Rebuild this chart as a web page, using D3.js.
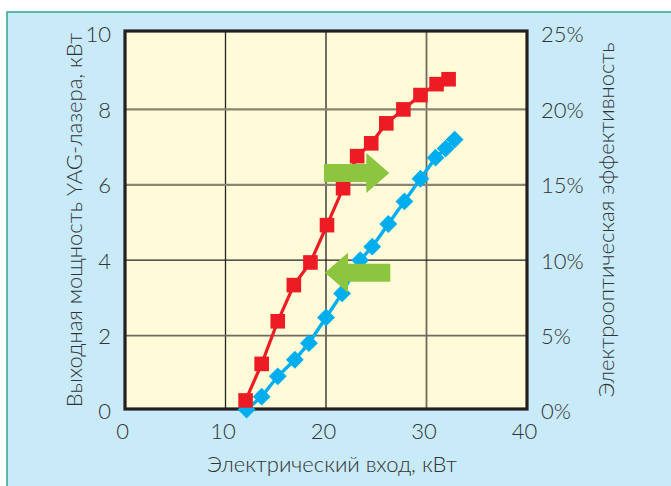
<!DOCTYPE html>
<html><head><meta charset="utf-8">
<script src="https://cdn.jsdelivr.net/npm/d3@7"></script>
<style>
html,body{margin:0;padding:0;background:#fff;}
text{font-family:Lato,"Noto Sans",sans-serif;fill:#333;font-weight:300;}
</style></head>
<body>
<svg id="c" width="671" height="486"></svg>
<script>
// Data
const xTicks = [0, 10, 20, 30, 40];
const yLeftTicks = [0, 2, 4, 6, 8, 10];
const yRightTicks = [0, 5, 10, 15, 20, 25];
// Red: output YAG power (kW) vs electrical input (kW)
const powerInput = [12.0, 13.6, 15.2, 16.8, 18.45, 20.1, 21.7, 23.1, 24.5, 26.0, 27.7, 29.4, 31.0, 32.2];
const powerOutput = [0.28, 1.25, 2.38, 3.34, 3.94, 4.93, 5.91, 6.76, 7.10, 7.63, 8.0, 8.38, 8.67, 8.80];
// Blue: electro-optical efficiency (%) vs electrical input (kW)
const effInput = [12.1, 13.6, 15.2, 16.9, 18.3, 20.0, 21.6, 23.4, 24.6, 26.2, 27.8, 29.4, 30.9, 31.9, 32.8];
const effValue = [0.1, 0.95, 2.3, 3.4, 4.5, 6.2, 7.8, 10.0, 10.9, 12.4, 13.9, 15.4, 16.8, 17.4, 18.0];
// Annotation arrows (data coords): tail x, tip x, y on left axis
const arrowTail = [19.8, 26.4];
const arrowTip = [26.3, 19.9];
const arrowY = [6.31, 3.67];

const svg = d3.select("#c");
// Panel background
svg.append("rect").attr("x", 7).attr("y", 12).attr("width", 700).attr("height", 500)
  .attr("fill", "#c8eaf9").attr("stroke", "#2aa98a").attr("stroke-width", 1.5);

const x = d3.scaleLinear().domain([0, 40]).range([125, 527]);
const y = d3.scaleLinear().domain([0, 10]).range([411, 34]);
const yr = d3.scaleLinear().domain([0, 25]).range([411, 34]);

const L = 125, R = 527, T = 31, B = 409;
svg.append("rect").attr("x", L).attr("y", T).attr("width", R - L).attr("height", B - T)
  .attr("fill", "#fffbd8");

// Grid
const vStyle = {10: ["#222", 1.3], 20: ["#222", 1.3], 30: ["#6e6a5e", 1.8]};
svg.append("g").selectAll("line").data(xTicks.filter(d => d > 0 && d < 40)).join("line")
  .attr("x1", d => x(d)).attr("x2", d => x(d)).attr("y1", T).attr("y2", B)
  .attr("stroke", d => vStyle[d][0]).attr("stroke-width", d => vStyle[d][1]);
const hStyle = {2: ["#6e6a5e", 1.8], 4: ["#222", 1.3], 6: ["#8a8470", 2.2], 8: ["#8a8470", 2.2]};
svg.append("g").selectAll("line").data(yLeftTicks.filter(d => d > 0 && d < 10)).join("line")
  .attr("x1", L).attr("x2", R).attr("y1", d => y(d)).attr("y2", d => y(d))
  .attr("stroke", d => hStyle[d][0]).attr("stroke-width", d => hStyle[d][1]);

// Frame
svg.append("rect").attr("x", L).attr("y", T).attr("width", R - L).attr("height", B - T)
  .attr("fill", "none").attr("stroke", "#231f20").attr("stroke-width", 3.2);

// Axes (labels only)
const fs = 22;
const ax = svg.append("g").attr("transform", `translate(0,${B})`)
  .call(d3.axisBottom(x).tickValues(xTicks).tickSize(0).tickPadding(14));
const ayl = svg.append("g").attr("transform", `translate(${L},0)`)
  .call(d3.axisLeft(y).tickValues(yLeftTicks).tickSize(0).tickPadding(14));
const ayr = svg.append("g").attr("transform", `translate(${R},0)`)
  .call(d3.axisRight(yr).tickValues(yRightTicks).tickFormat(d => d + "%").tickSize(0).tickPadding(14));
[ax, ayl, ayr].forEach(g => {
  g.select(".domain").remove();
  g.selectAll("text").attr("font-size", fs).attr("font-family", "Lato, sans-serif")
    .attr("font-weight", 300).attr("fill", "#333");
});
ax.selectAll("text").attr("dx", -3);
ayl.selectAll("text").attr("dy", "0.36em");
ayr.selectAll("text").attr("dy", "0.36em");

// Blue series
const blue = effInput.map((d, i) => [d, effValue[i]]);
svg.append("path").datum(blue).attr("fill", "none").attr("stroke", "#00aeef").attr("stroke-width", 3.4)
  .attr("d", d3.line().x(d => x(d[0])).y(d => yr(d[1])));
const ds = 12.6;
svg.append("g").selectAll("rect").data(blue).join("rect")
  .attr("x", -ds / 2).attr("y", -ds / 2).attr("width", ds).attr("height", ds)
  .attr("fill", "#00aeef")
  .attr("transform", d => `translate(${x(d[0])},${yr(d[1])}) rotate(45)`);

// Red series
const red = powerInput.map((d, i) => [d, powerOutput[i]]);
svg.append("path").datum(red).attr("fill", "none").attr("stroke", "#ed1c24").attr("stroke-width", 3.2)
  .attr("d", d3.line().x(d => x(d[0])).y(d => y(d[1])));
svg.append("g").selectAll("rect").data(red).join("rect")
  .attr("x", d => x(d[0]) - 7.3).attr("y", d => y(d[1]) - 7.3).attr("width", 14.6).attr("height", 14.6)
  .attr("fill", "#ed1c24");

// Arrows (drawn on top)
const ah = 9, hh = 20, hl = 23;
const arrows = arrowTail.map((t, i) => ({t: x(t), p: x(arrowTip[i]), y: y(arrowY[i])}));
svg.append("g").selectAll("path").data(arrows).join("path")
  .attr("fill", "#8cc63f")
  .attr("d", a => {
    const dir = a.p > a.t ? 1 : -1;
    const hb = a.p - dir * hl;
    return `M${a.t},${a.y - ah}L${hb},${a.y - ah}L${hb},${a.y - hh}L${a.p},${a.y}L${hb},${a.y + hh}L${hb},${a.y + ah}L${a.t},${a.y + ah}Z`;
  });

// Axis titles
svg.append("text").attr("x", 332).attr("y", 472).attr("text-anchor", "middle")
  .attr("font-size", fs).text("Электрический вход, кВт");
svg.append("text").attr("transform", "translate(82,220) rotate(-90)").attr("text-anchor", "middle")
  .attr("font-size", fs).text("Выходная мощность YAG-лазера, кВт");
svg.append("text").attr("transform", "translate(614,220) rotate(-90)").attr("text-anchor", "middle")
  .attr("font-size", fs).text("Электрооптическая эффективность");
</script>
</body></html>
